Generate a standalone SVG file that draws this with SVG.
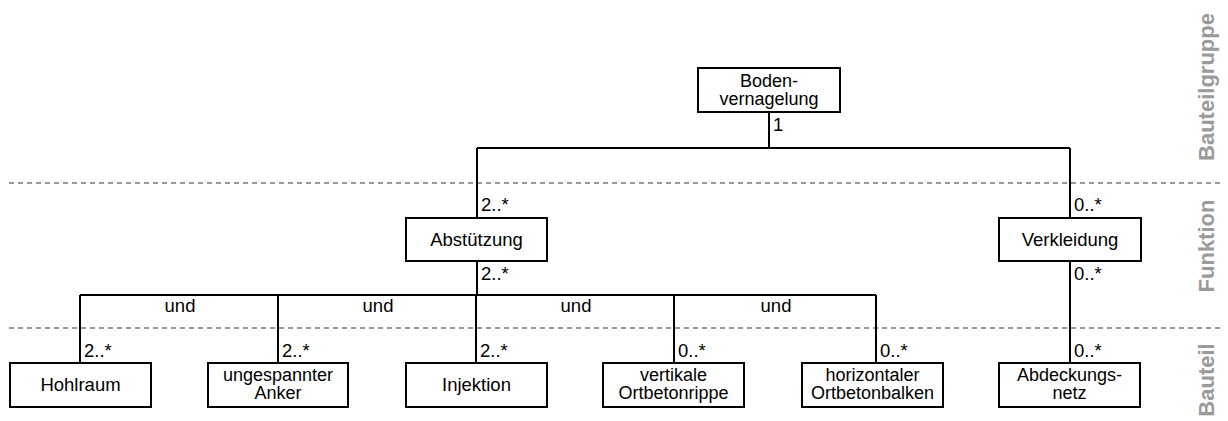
<svg xmlns="http://www.w3.org/2000/svg" width="1228" height="421" viewBox="0 0 1228 421">
<style>
.box{fill:#fff;stroke:#000;stroke-width:2}
.t{font-family:"Liberation Sans",Arial,sans-serif;font-size:18.5px;fill:#000}
.t2{font-size:18px}
.c{text-anchor:middle}
.ln{fill:none;stroke:#000;stroke-width:2}
.dash{stroke:#999;stroke-width:2;stroke-dasharray:5 4;fill:none}
.lvl{font-family:"Liberation Sans",Arial,sans-serif;font-size:22px;font-weight:bold;fill:#9a9a9a;text-anchor:middle}
</style>
<rect width="1228" height="421" fill="#fff"/>
<g id="levels">
<path class="dash" d="M9 183H1222M9 328H1222"/>
<text class="lvl" transform="translate(1214 87) rotate(-90)">Bauteilgruppe</text>
<text class="lvl" transform="translate(1214 246) rotate(-90)">Funktion</text>
<text class="lvl" transform="translate(1214 380) rotate(-90)">Bauteil</text>
</g>
<g id="connectors">
<path class="ln" d="M769 112V148M477 148H1070M477 148V218M1070 148V218"/>
<path class="ln" d="M477 261V295M80 295H876M80 295V363M278 295V363M476 295V363M674 295V363M876 295V363"/>
<path class="ln" d="M1070 261V363"/>
<text class="t" x="773" y="131">1</text>
<text class="t" x="481" y="211">2..*</text>
<text class="t" x="1074" y="211">0..*</text>
<text class="t" x="481" y="280">2..*</text>
<text class="t" x="1074" y="280">0..*</text>
<text class="t c" x="180" y="312">und</text>
<text class="t c" x="378" y="312">und</text>
<text class="t c" x="576" y="312">und</text>
<text class="t c" x="776" y="312">und</text>
<text class="t" x="84" y="357">2..*</text>
<text class="t" x="282" y="357">2..*</text>
<text class="t" x="480" y="357">2..*</text>
<text class="t" x="678" y="357">0..*</text>
<text class="t" x="880" y="357">0..*</text>
<text class="t" x="1074" y="357">0..*</text>
</g>
<g id="n-boden"><rect class="box" x="698" y="68" width="142" height="44"/><text class="t t2 c" x="769" y="87">Boden-</text><text class="t t2 c" x="769" y="105">vernagelung</text></g>
<g id="n-abstuetzung"><rect class="box" x="406" y="218" width="141" height="43"/><text class="t c" x="476.5" y="246">Abstützung</text></g>
<g id="n-verkleidung"><rect class="box" x="999" y="218" width="142" height="43"/><text class="t c" x="1070" y="246">Verkleidung</text></g>
<g id="n-hohlraum"><rect class="box" x="10" y="363" width="141" height="44"/><text class="t c" x="80.5" y="391">Hohlraum</text></g>
<g id="n-anker"><rect class="box" x="208" y="363" width="140" height="44"/><text class="t t2 c" x="278" y="381">ungespannter</text><text class="t t2 c" x="278" y="399">Anker</text></g>
<g id="n-injektion"><rect class="box" x="406" y="363" width="141" height="44"/><text class="t c" x="476.5" y="391">Injektion</text></g>
<g id="n-rippe"><rect class="box" x="603" y="363" width="141" height="44"/><text class="t t2 c" x="673.5" y="381">vertikale</text><text class="t t2 c" x="673.5" y="399">Ortbetonrippe</text></g>
<g id="n-balken"><rect class="box" x="802" y="363" width="141" height="44"/><text class="t t2 c" x="872.5" y="381">horizontaler</text><text class="t t2 c" x="872.5" y="399">Ortbetonbalken</text></g>
<g id="n-netz"><rect class="box" x="999" y="363" width="141" height="44"/><text class="t t2 c" x="1069.5" y="381">Abdeckungs-</text><text class="t t2 c" x="1069.5" y="399">netz</text></g>
</svg>
